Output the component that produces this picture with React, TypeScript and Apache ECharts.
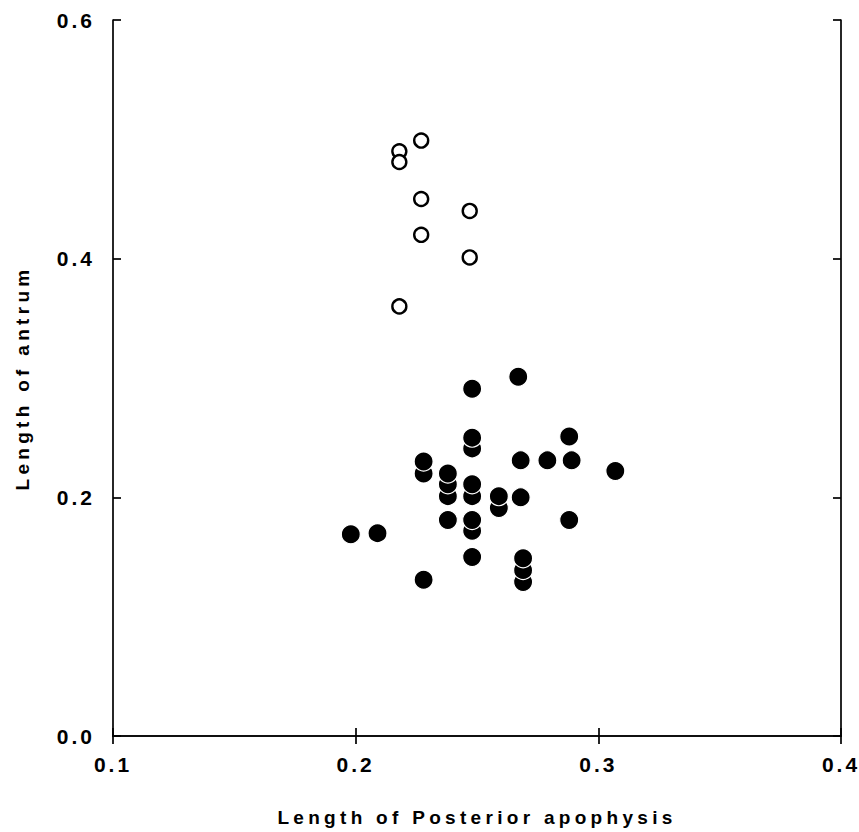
import React, { useEffect, useRef } from "react";
import * as echarts from "echarts";

// Filled circles: [length of posterior apophysis, length of antrum]
const filledX = [0.248, 0.267, 0.248, 0.248, 0.288, 0.268, 0.279, 0.289, 0.307, 0.228, 0.228, 0.238, 0.238, 0.238, 0.248, 0.248, 0.259, 0.259, 0.268, 0.238, 0.248, 0.248, 0.288, 0.198, 0.209, 0.248, 0.269, 0.269, 0.269, 0.228];
const filledY = [0.291, 0.301, 0.250, 0.241, 0.251, 0.231, 0.231, 0.231, 0.222, 0.230, 0.220, 0.220, 0.211, 0.201, 0.211, 0.201, 0.201, 0.191, 0.200, 0.181, 0.181, 0.172, 0.181, 0.169, 0.170, 0.150, 0.149, 0.139, 0.129, 0.131];

// Open circles
const openX = [0.227, 0.218, 0.218, 0.227, 0.247, 0.227, 0.247, 0.218];
const openY = [0.499, 0.490, 0.481, 0.450, 0.440, 0.420, 0.401, 0.360];

const xTicks = [0.1, 0.2, 0.3, 0.4];
const yTicks = [0.0, 0.2, 0.4, 0.6];

const xName = "Length of Posterior apophysis";
const yName = "Length of antrum";

const FONT = "'Liberation Sans', Arial, Helvetica, sans-serif";

export default function App() {
  const ref = useRef<HTMLDivElement>(null);

  useEffect(() => {
    document.body.style.margin = "0";
    const el = ref.current!;
    const chart = echarts.init(el, null, { renderer: "svg" });

    const filled = filledX
      .map((x, i) => [x, filledY[i]])
      .sort((a, b) => a[1] - b[1]);
    const open = openX.map((x, i) => [x, openY[i]]);

    const labelStyle = {
      color: "#000",
      fontFamily: FONT,
      fontWeight: "bold" as const,
      fontSize: 21,
    };
    const nameStyle = {
      color: "#000",
      fontFamily: FONT,
      fontWeight: "bold" as const,
      fontSize: 19,
    };
    const lineStyle = { color: "#000", width: 1.7 };

    chart.setOption({
      animation: false,
      backgroundColor: "#fff",
      grid: { left: 113, right: 18, top: 20, bottom: 93, containLabel: false },
      xAxis: [
        {
          type: "value",
          min: xTicks[0],
          max: xTicks[xTicks.length - 1],
          interval: 0.1,
          position: "bottom",
          name: xName,
          nameLocation: "middle",
          nameGap: 72,
          nameTextStyle: nameStyle,
          axisLine: { show: true, lineStyle },
          axisTick: { show: true, inside: true, length: 8, lineStyle },
          axisLabel: { ...labelStyle, margin: 18, formatter: (v: number) => v.toFixed(1), showMinLabel: true, showMaxLabel: true },
          splitLine: { show: false },
        },
        {
          type: "value",
          min: xTicks[0],
          max: xTicks[xTicks.length - 1],
          interval: 0.1,
          position: "top",
          axisLine: { show: true, lineStyle },
          axisTick: { show: true, inside: true, length: 8, lineStyle },
          axisLabel: { show: false },
          splitLine: { show: false },
        },
      ],
      yAxis: [
        {
          type: "value",
          min: yTicks[0],
          max: yTicks[yTicks.length - 1],
          interval: 0.2,
          position: "left",
          name: yName,
          nameLocation: "middle",
          nameRotate: 90,
          nameGap: 81,
          nameTextStyle: nameStyle,
          axisLine: { show: true, lineStyle },
          axisTick: { show: true, inside: true, length: 8, lineStyle },
          axisLabel: { ...labelStyle, margin: 18, formatter: (v: number) => v.toFixed(1), showMinLabel: true, showMaxLabel: true },
          splitLine: { show: false },
        },
        {
          type: "value",
          min: yTicks[0],
          max: yTicks[yTicks.length - 1],
          interval: 0.2,
          position: "right",
          axisLine: { show: true, lineStyle },
          axisTick: { show: true, inside: true, length: 8, lineStyle },
          axisLabel: { show: false },
          splitLine: { show: false },
        },
      ],
      series: [
        {
          type: "scatter",
          xAxisIndex: 0,
          yAxisIndex: 0,
          data: filled,
          symbol: "circle",
          symbolSize: 19,
          itemStyle: { color: "#000", borderColor: "#fff", borderWidth: 1.2, opacity: 1 },
          emphasis: { disabled: true },
        },
        {
          type: "scatter",
          xAxisIndex: 0,
          yAxisIndex: 0,
          data: open,
          symbol: "circle",
          symbolSize: 14,
          itemStyle: { color: "#fff", borderColor: "#000", borderWidth: 2.4, opacity: 1 },
          emphasis: { disabled: true },
        },
      ],
    });

    // letter spacing like the original lettering
    const texts = el.querySelectorAll("text");
    texts.forEach((t) => {
      const s = t.textContent || "";
      if (s === xName || s === yName) t.setAttribute("letter-spacing", "4.3");
      else if (/^0\.\d$/.test(s)) t.setAttribute("letter-spacing", "3");
    });

    return () => chart.dispose();
  }, []);

  return <div ref={ref} style={{ width: 859, height: 832 }} />;
}
